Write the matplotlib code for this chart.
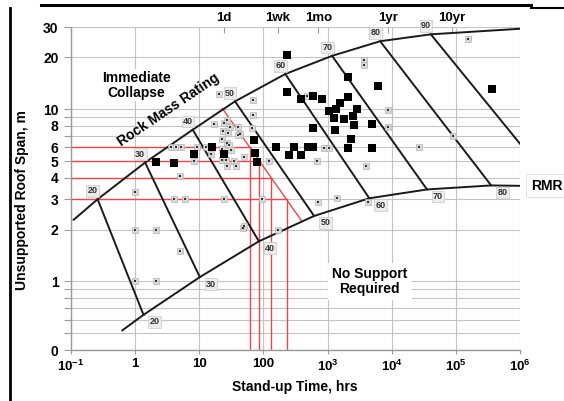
import numpy as np
import matplotlib
matplotlib.use('Agg')
import matplotlib.pyplot as plt
from matplotlib.lines import Line2D

plt.rcParams['font.family'] = ['Liberation Sans', 'DejaVu Sans']
plt.rcParams['font.weight'] = 'bold'
plt.rcParams['mathtext.fontset'] = 'custom'
plt.rcParams['mathtext.rm'] = 'Liberation Sans:bold'
plt.rcParams['mathtext.bf'] = 'Liberation Sans:bold'

# boundary curves (stand-up time hrs, span m)
upper_rmr = [20, 30, 40, 50, 60, 70, 80, 90]
upper_hrs = [0.11, 0.26, 1.43, 7.9, 36, 219, 1175, 6600, 40700, 1e6]
upper_span = [2.28, 3.0, 4.9, 7.6, 11.1, 16.0, 20.4, 24.8, 27.2, 29.3]

lower_rmr = [20, 30, 40, 50, 60, 70, 80]
lower_hrs = [0.63, 1.35, 10.2, 85, 617, 4470, 35500, 355000, 1e6]
lower_span = [0.52, 0.64, 1.06, 1.71, 2.4, 3.04, 3.42, 3.61, 3.59]

# end of the RMR 90 line on the right edge
rmr90_end = (1e6, 6.3)

# red construction lines
red_span = [6, 5, 4, 3]
red_hrs = [62, 85, 132, 229]
red_diag_hrs = [22.9, 400]
red_diag_span = [10.1, 2.23]

# case histories
big_hrs = [2.1, 4.0, 8.2, 16, 24, 72, 73, 78, 155, 230, 230, 300, 250, 390, 380,
           490, 590, 590, 600, 810, 1070, 1300, 1350, 1250, 1580, 1800, 2090,
           2100, 2090, 2300, 2500, 2880, 2600, 5000, 5000, 6200, 363000]
big_span = [4.95, 4.9, 5.5, 6.05, 5.5, 6.6, 5.6, 4.95, 6.0, 20.7, 12.5, 6.0, 5.4,
            5.4, 11.4, 6.0, 6.0, 11.9, 7.8, 11.4, 9.7, 7.6, 10.0, 8.9, 10.9, 8.8,
            15.4, 11.8, 5.95, 6.7, 9.1, 10.0, 8.1, 8.2, 5.95, 13.7, 13.1]

small_hrs = [1.0, 1.0, 2.1, 1.0, 2.1, 5.0, 5.0, 4.1, 5.9, 24, 48,
             3.6, 4.3, 5.2, 9.1, 8.3, 12.6, 15,
             20, 17, 68, 68, 66,
             24.5, 27, 30, 23.5, 28, 39.5, 43.5, 23, 27, 29, 22.6, 31, 22.3, 26,
             35, 27.5, 37, 49, 40,
             120, 96, 50, 170, 470, 890, 1050, 680, 4000, 700, 1380, 4200,
             3700, 3700, 8900, 8900, 27000, 91000, 155000]
small_span = [3.3, 2.0, 2.0, 1.0, 1.0, 1.5, 4.1, 3.0, 3.0, 3.0, 2.05,
              6.0, 6.0, 6.0, 6.0, 5.0, 6.0, 5.5,
              12.2, 8.2, 11.3, 9.2, 7.8,
              8.3, 8.6, 7.9, 7.5, 7.3, 7.9, 7.2, 6.7, 6.4, 6.2, 5.9, 5.8, 5.1, 5.1,
              5.0, 4.7, 4.7, 5.3, 7.1,
              5.0, 3.0, 2.1, 2.0, 11.9, 5.95, 5.95, 5.0, 4.7, 2.9, 3.05, 2.9,
              19.2, 18.0, 9.9, 7.9, 6.0, 7.0, 25.7]

x_ticks = [0.1, 1, 10, 100, 1e3, 1e4, 1e5, 1e6]
x_labels = [r'$10^{-1}$', '1', '10', '100', r'$10^{3}$', r'$10^{4}$', r'$10^{5}$', r'$10^{6}$']
y_ticks = [0.4, 1, 2, 3, 4, 5, 6, 8, 10, 20, 30]
y_labels = ['0', '1', '2', '3', '4', '5', '6', '8', '10', '20', '30']
y_minor = [0.5, 0.6, 0.7, 0.8, 0.9, 7, 9]
top_hrs = [24, 168, 720, 8760, 87600]
top_labels = ['1d', '1wk', '1mo', '1yr', '10yr']

W, H = 564, 401
fig = plt.figure(figsize=(W / 100, H / 100), dpi=100)
ax = fig.add_axes([71 / W, 1 - 350 / H, 449 / W, 323 / H])
ax.set_xscale('log')
ax.set_yscale('log')
ax.set_xlim(0.1, 1e6)
ax.set_ylim(0.4, 30)

grid_c = '#c4c4c4'
ax.set_xticks(x_ticks)
ax.set_xticklabels(x_labels, fontsize=9.5)
ax.xaxis.set_minor_locator(matplotlib.ticker.NullLocator())
ax.set_yticks(y_ticks)
ax.set_yticklabels(y_labels, fontsize=10)
ax.set_yticks(y_minor, minor=True)
ax.yaxis.set_minor_formatter(matplotlib.ticker.NullFormatter())
ax.tick_params(axis='y', which='both', color='#999999', length=5, width=0.8, pad=4)
ax.tick_params(axis='x', which='both', color='#999999', length=3, width=0.8, pad=3)
ax.grid(True, which='both', color=grid_c, lw=0.8)
ax.set_axisbelow(True)
for s in ['top', 'right']:
    ax.spines[s].set_visible(False)
for s in ['left', 'bottom']:
    ax.spines[s].set_color('#999999')
    ax.spines[s].set_linewidth(1.0)

# top time scale
sec = ax.secondary_xaxis('top')
sec.set_xticks(top_hrs)
sec.set_xticklabels(top_labels, fontsize=9.5)
sec.xaxis.set_minor_locator(matplotlib.ticker.NullLocator())
sec.tick_params(direction='in', length=4, color='#999999', pad=2)
sec.spines['top'].set_visible(False)

red = '#e8474c'
for sp, t in zip(red_span, red_hrs):
    ax.plot([0.1, t], [sp, sp], color=red, lw=1.0, zorder=2)
    ax.plot([t, t], [sp, 0.4], color=red, lw=1.0, zorder=2)
ax.plot(red_diag_hrs, red_diag_span, color=red, lw=1.0, zorder=2)

# boundaries and RMR lines
ax.plot(upper_hrs, upper_span, color='#1a1a1a', lw=1.4, zorder=3)
ax.plot(lower_hrs, lower_span, color='#1a1a1a', lw=1.4, zorder=3)
for i, r in enumerate(lower_rmr):
    ax.plot([upper_hrs[i + 1], lower_hrs[i + 1]], [upper_span[i + 1], lower_span[i + 1]],
            color='#1a1a1a', lw=1.4, zorder=3)
ax.plot([upper_hrs[8], rmr90_end[0]], [upper_span[8], rmr90_end[1]],
        color='#1a1a1a', lw=1.4, zorder=3)

box = dict(boxstyle='square,pad=0.15', fc='#ececec', ec='#c8c8c8', lw=0.5)
for i, r in enumerate(upper_rmr):
    ax.annotate(str(r), (upper_hrs[i + 1], upper_span[i + 1]), xytext=(-3.5, 6),
                textcoords='offset points', ha='center', va='center',
                fontsize=6.5, color='#333333', bbox=box, zorder=6)
for i, r in enumerate(lower_rmr):
    ax.annotate(str(r), (lower_hrs[i + 1], lower_span[i + 1]), xytext=(8, -5),
                textcoords='offset points', ha='center', va='center',
                fontsize=6.5, color='#333333', bbox=box, zorder=6)

ax.scatter(small_hrs, small_span, marker='s', s=14, facecolor='#d8d8d8',
           edgecolor='#b5b5b5', lw=0.5, zorder=4)
ax.scatter(small_hrs, small_span, marker='s', s=1.2, color='#333333', lw=0, zorder=4.5)
ax.scatter(big_hrs, big_span, marker='s', s=28, color='black', lw=0, zorder=5)

white = dict(boxstyle='square,pad=0.1', fc='white', ec='none')
ax.text(1.05, 13.8, 'Immediate\nCollapse', ha='center', va='center', fontsize=10,
        linespacing=1.1, bbox=white, zorder=3.5)
ax.text(3.3, 9.9, 'Rock Mass Rating', ha='center', va='center', fontsize=10,
        rotation=34, rotation_mode='anchor', zorder=3.5)
ax.text(4570, 1.0, 'No Support\nRequired', ha='center', va='center', fontsize=10,
        linespacing=1.1, bbox=dict(boxstyle='square,pad=0.3', fc='white', ec='none'),
        zorder=3.5)
ax.text(10 ** 6.42, 3.6, 'RMR', ha='center', va='center', fontsize=10, clip_on=False,
        bbox=dict(boxstyle='square,pad=0.35', fc='white', ec='#dddddd', lw=0.6))

fig.text(295 / W, 1 - 387 / H, 'Stand-up Time, hrs', ha='center', va='center', fontsize=10)
fig.text(22 / W, 1 - 200 / H, 'Unsupported Roof Span, m', ha='center', va='center',
         fontsize=10, rotation=90)

# page borders around the figure
fig.add_artist(Line2D([41 / W, 531 / W], [1 - 5 / H, 1 - 5 / H], color='black', lw=2.2))
fig.add_artist(Line2D([531 / W, 1], [1 - 8 / H, 1 - 8 / H], color='black', lw=1.5))
fig.add_artist(Line2D([10 / W, 10 / W], [0, 1 - 8 / H], color='black', lw=2.0))

fig.savefig('out.png', dpi=100)
